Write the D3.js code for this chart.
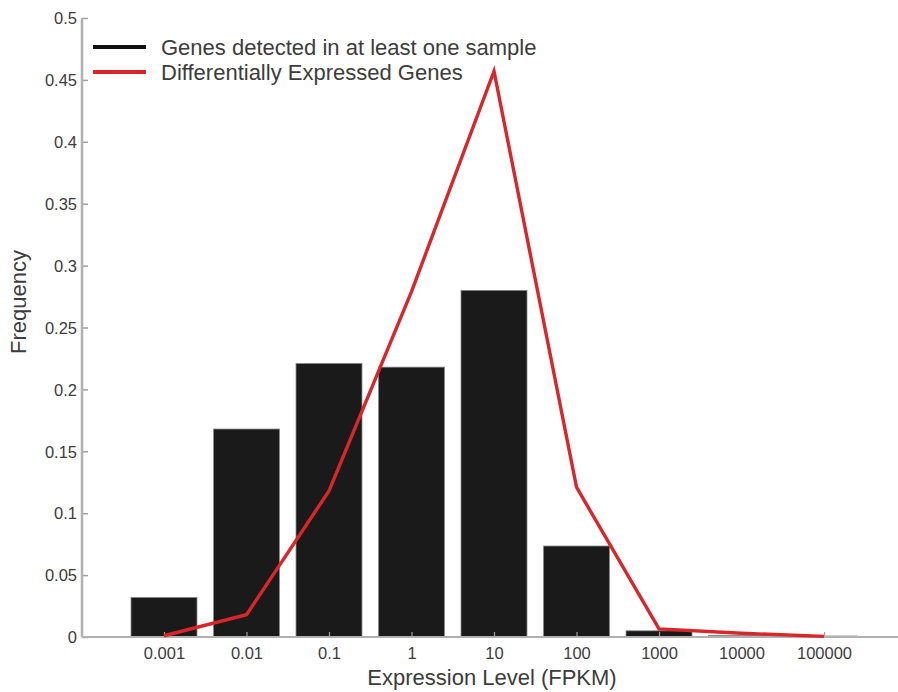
<!DOCTYPE html>
<html>
<head>
<meta charset="utf-8">
<script src="https://cdn.jsdelivr.net/npm/d3@7"></script>
<style>
body { margin: 0; background: #fff; }
text { font-family: "Liberation Sans", Arial, sans-serif; fill: #3c3c3c; }
</style>
</head>
<body>
<svg id="chart" width="898" height="692"></svg>
<script>
var categories = ["0.001", "0.01", "0.1", "1", "10", "100", "1000", "10000", "100000"];
var detected = [0.032, 0.168, 0.221, 0.218, 0.280, 0.0735, 0.005, 0.0012, 0.0008];
var degs = [0.001, 0.018, 0.118, 0.279, 0.457, 0.121, 0.0065, 0.003, 0.0005];
var yTicks = [0, 0.05, 0.1, 0.15, 0.2, 0.25, 0.3, 0.35, 0.4, 0.45, 0.5];
var legendLabels = ["Genes detected in at least one sample", "Differentially Expressed Genes"];

var chart = {};
chart.left = 82;
chart.right = 898;
chart.top = 18;
chart.bottom = 637;
chart.barwidth = 66;

var svg = d3.select("#chart");

var x = d3.scalePoint().domain(categories).range([164, 824]);
var y = d3.scaleLinear().domain([0, 0.5]).range([chart.bottom, chart.top]);

// bars
svg.append("g").selectAll("rect")
	.data(detected)
	.enter().append("rect")
	.attr("x", function(d, i){ return x(categories[i]) - chart.barwidth/2; })
	.attr("y", function(d){ return y(d); })
	.attr("width", chart.barwidth)
	.attr("height", function(d){ return chart.bottom - y(d); })
	.style("fill", "#1a1a1a")
	.style("stroke", "#8a8a8a")
	.style("stroke-width", 0.8);

// y axis
var yAxis = d3.axisLeft(y).tickValues(yTicks).tickSize(-6).tickPadding(5)
	.tickFormat(function(d){ return d === 0 ? "0" : String(+d.toFixed(2)); });
var gy = svg.append("g").attr("transform", "translate(" + chart.left + ",0)").call(yAxis);
gy.select(".domain").remove();
gy.selectAll(".tick line").style("stroke", "#a0a0a0").style("stroke-width", 1.5);
gy.selectAll(".tick text").style("font-size", "16.5px").style("fill", "#3c3c3c").attr("dy", "0.35em");
svg.append("line")
	.attr("x1", chart.left).attr("x2", chart.left)
	.attr("y1", chart.top).attr("y2", chart.bottom)
	.style("stroke", "#b0b0b0").style("stroke-width", 2.5);

// x axis
var xAxis = d3.axisBottom(x).tickSize(-5).tickPadding(10);
var gx = svg.append("g").attr("transform", "translate(0," + chart.bottom + ")").call(xAxis);
gx.select(".domain").remove();
gx.selectAll(".tick line").style("stroke", "#a0a0a0").style("stroke-width", 1.2);
gx.selectAll(".tick text").style("font-size", "16.5px").style("fill", "#3c3c3c");
svg.append("line")
	.attr("x1", chart.left).attr("x2", chart.right)
	.attr("y1", chart.bottom).attr("y2", chart.bottom)
	.style("stroke", "#b0b0b0").style("stroke-width", 2);

// red line
var line = d3.line()
	.x(function(d, i){ return x(categories[i]); })
	.y(function(d){ return y(d); });
svg.append("path")
	.datum(degs)
	.attr("d", line)
	.style("fill", "none")
	.style("stroke", "#d9262b")
	.style("stroke-width", 3.4)
	.style("stroke-linejoin", "miter");

// axis titles
svg.append("text")
	.attr("x", 492).attr("y", 685)
	.attr("text-anchor", "middle")
	.style("font-size", "22px")
	.text("Expression Level (FPKM)");
svg.append("text")
	.attr("transform", "translate(26,302) rotate(-90)")
	.attr("text-anchor", "middle")
	.style("font-size", "22px")
	.text("Frequency");

// legend
var legendColors = ["#111111", "#d9262b"];
var lg = svg.append("g").selectAll("g")
	.data(legendLabels)
	.enter().append("g")
	.attr("transform", function(d, i){ return "translate(0," + (47 + i*25) + ")"; });
lg.append("line")
	.attr("x1", 93).attr("x2", 146)
	.attr("y1", 0).attr("y2", 0)
	.style("stroke", function(d, i){ return legendColors[i]; })
	.style("stroke-width", 4);
lg.append("text")
	.attr("x", 161).attr("y", 8)
	.style("font-size", "22px")
	.text(function(d){ return d; });
</script>
</body>
</html>
